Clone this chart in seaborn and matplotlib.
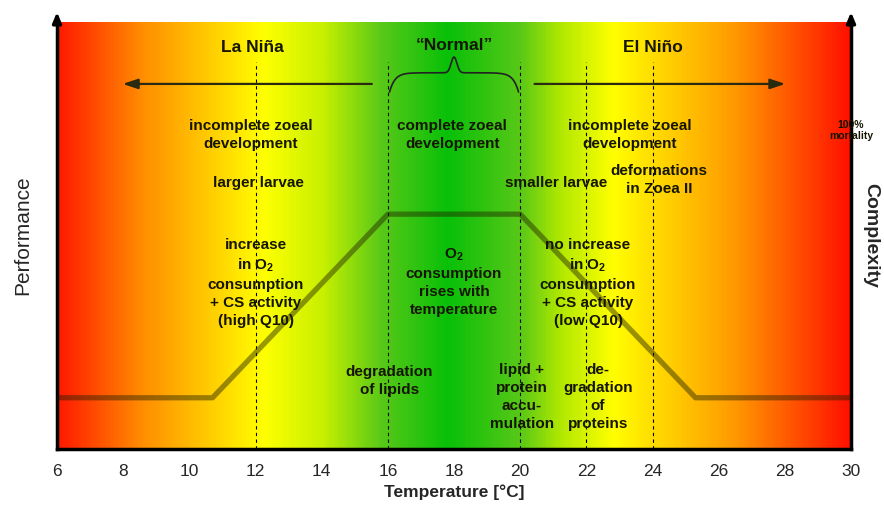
import matplotlib
matplotlib.use("Agg")
import matplotlib.pyplot as plt
import numpy as np
import pandas as pd
import seaborn as sns
from matplotlib.colors import LinearSegmentedColormap

# background gradient stops (temperature, colour)
GRAD_TEMPS = [6, 8.5, 12.2, 14.0, 15.8, 17.8, 20.0, 21.2, 22.8, 26.5, 30]
GRAD_COLORS = ["#ff1a00", "#ff8c00", "#ffff00", "#c8f000", "#58c818", "#08c008",
               "#58c818", "#b0e800", "#ffff00", "#ff9900", "#ff1000"]

# performance curve
PERF_TEMP = [6, 10.7, 16, 20, 25.3, 30]
PERF_VALUE = [0.12, 0.12, 0.55, 0.55, 0.12, 0.12]

DASHED_TEMPS = [12, 16, 20, 22, 24]
XTICKS = list(range(6, 31, 2))

FONT = ["Liberation Sans", "DejaVu Sans"]

labels = [
    # text, x, y, size
    ("La Niña", 11.9, 0.941, 12.5),
    ("\u201cNormal\u201d", 18.0, 0.946, 12.5),
    ("El Niño", 24.0, 0.941, 12.5),
    ("incomplete zoeal\ndevelopment", 11.85, 0.735, 11),
    ("complete zoeal\ndevelopment", 17.95, 0.735, 11),
    ("incomplete zoeal\ndevelopment", 23.3, 0.735, 11),
    ("larger larvae", 12.1, 0.623, 11),
    ("smaller larvae", 21.1, 0.623, 11),
    ("deformations\nin Zoea II", 24.2, 0.63, 11),
    ("increase\nin O$_\\mathbf{2}$\nconsumption\n+ CS activity\n(high Q10)", 12.0, 0.389, 11),
    ("O$_\\mathbf{2}$\nconsumption\nrises with\ntemperature", 18.0, 0.392, 11),
    ("no increase\nin O$_\\mathbf{2}$\nconsumption\n+ CS activity\n(low Q10)", 22.05, 0.389, 11),
    ("degradation\nof lipids", 16.05, 0.159, 11),
    ("lipid +\nprotein\naccu-\nmulation", 20.05, 0.122, 11),
    ("de-\ngradation\nof\nproteins", 22.35, 0.122, 11),
]


def brace(x0, x1, y, height):
    t = np.linspace(0, 1, 200)
    xs = x0 + (x1 - x0) * t
    half = np.where(t < 0.5, t, 1 - t) * 2
    ys = y + height * (0.55 * (1 - np.exp(-12 * half)) + 0.45 * np.exp(-((half - 1) ** 2) / 0.004))
    return xs, ys


sns.set_style("white")
plt.rcParams["font.family"] = FONT
plt.rcParams["mathtext.fontset"] = "custom"
plt.rcParams["mathtext.bf"] = "Liberation Sans:bold"
plt.rcParams["mathtext.rm"] = "Liberation Sans"

fig = plt.figure(figsize=(8.84, 5.24), dpi=100)
ax = fig.add_axes([0.0645, 0.1431, 0.8982, 0.8149])

cmap = LinearSegmentedColormap.from_list(
    "temp", [((t - GRAD_TEMPS[0]) / (GRAD_TEMPS[-1] - GRAD_TEMPS[0]), c)
             for t, c in zip(GRAD_TEMPS, GRAD_COLORS)])
grad = np.linspace(0, 1, 600)[None, :]
ax.imshow(grad, extent=[6, 30, 0, 1], aspect="auto", cmap=cmap, zorder=0)

perf = pd.DataFrame({"temp": PERF_TEMP, "perf": PERF_VALUE})
sns.lineplot(data=perf, x="temp", y="perf", ax=ax, color="#202000",
             alpha=0.45, linewidth=3.8, zorder=3)

for t in DASHED_TEMPS:
    ax.plot([t, t], [0, 0.906], color="black", linestyle=(0, (3, 3)),
            linewidth=0.8, zorder=2)

# la nina / el nino arrows
arrow_kw = dict(arrowstyle="-|>,head_length=0.9,head_width=0.3",
                color="#2a2a10", lw=1.6)
ax.annotate("", xy=(7.9, 0.855), xytext=(15.6, 0.855), arrowprops=arrow_kw, zorder=4)
ax.annotate("", xy=(28.1, 0.855), xytext=(20.35, 0.855), arrowprops=arrow_kw, zorder=4)

bx, by = brace(16.05, 19.95, 0.836, 0.082)
ax.plot(bx, by, color="#222222", linewidth=1.2, zorder=4)

for text, x, y, size in labels:
    ax.text(x, y, text, ha="center", va="center", fontsize=size,
            fontweight="bold", color="#151500", linespacing=1.35, zorder=5)

ax.text(30.0, 0.745, "100%\nmortality", ha="center", va="center", fontsize=7.5,
        fontweight="bold", color="#151500", linespacing=1.1, zorder=5, clip_on=False)

ax.set_xlim(6, 30)
ax.set_ylim(0, 1)
ax.set_xticks(XTICKS)
ax.set_xticklabels([str(v) for v in XTICKS], fontsize=12.5)
ax.set_yticks([])
ax.tick_params(axis="x", direction="out", length=5, width=1.2, pad=6, color="black")
ax.set_xlabel("Temperature [°C]", fontsize=12.5, fontweight="bold", labelpad=4)
ax.set_ylabel("Performance", fontsize=15, labelpad=18)

for side in ["left", "right", "bottom"]:
    ax.spines[side].set_visible(True)
    ax.spines[side].set_color("black")
    ax.spines[side].set_linewidth(2.5)
ax.spines["top"].set_visible(False)

axis_arrow = dict(arrowstyle="-|>,head_length=0.6,head_width=0.25", color="black", lw=2.5)
ax.annotate("", xy=(0, 1.03), xytext=(0, 0.99), xycoords="axes fraction",
            textcoords="axes fraction", arrowprops=axis_arrow, annotation_clip=False)
ax.annotate("", xy=(1, 1.03), xytext=(1, 0.99), xycoords="axes fraction",
            textcoords="axes fraction", arrowprops=axis_arrow, annotation_clip=False)

fig.text(0.985, 0.55, "Complexity", rotation=-90, ha="center", va="center",
         fontsize=14, fontweight="bold")

fig.savefig("out.png", dpi=100)
